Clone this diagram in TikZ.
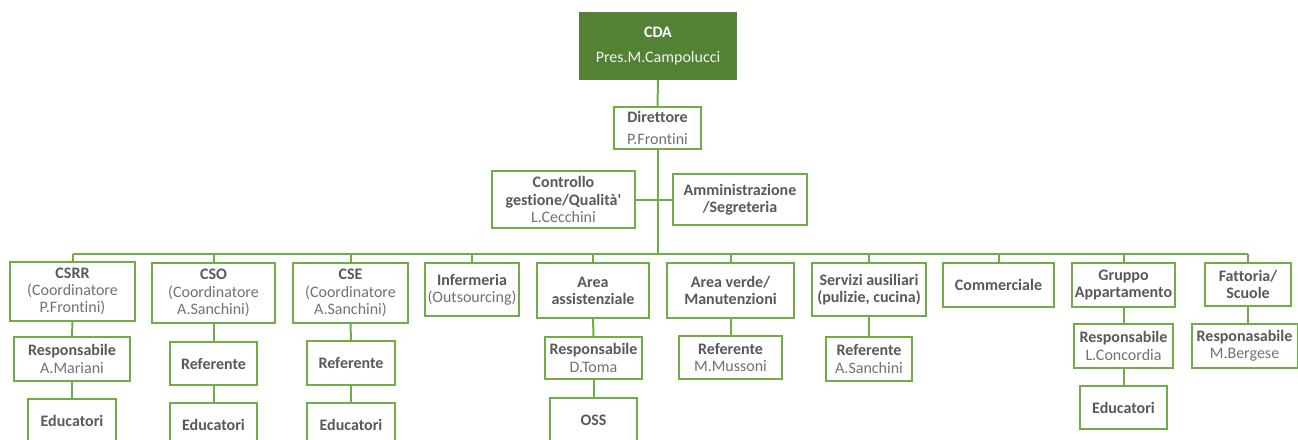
\documentclass[tikz,border=0pt]{standalone}
\usepackage{fontspec}
\setmainfont{Carlito}[Ligatures=NoCommon]
\definecolor{boxgreen}{HTML}{70AD47}
\definecolor{darkgreen}{HTML}{548235}
\definecolor{boldgray}{HTML}{595959}
\definecolor{namegray}{HTML}{767171}
\newcommand\lightname[1]{{\mdseries\color{namegray}#1}}
\tikzset{
  orgbox/.style={draw=boxgreen, line width=1.5pt, fill=white, align=center, inner sep=1pt,
    font=\fontsize{12}{12.9}\selectfont\bfseries, text=boldgray},
  topbox/.style={draw=darkgreen, fill=darkgreen, line width=1.5pt, align=center, inner sep=1pt,
    font=\fontsize{12}{12.9}\selectfont, text=white},
  sz/.style 2 args={minimum width=#1*0.75pt, minimum height=#2*0.75pt},
  link/.style={draw=boxgreen, line width=1.5pt}
}
\begin{document}
\begin{tikzpicture}[x=0.75pt, y=-0.75pt]
\useasboundingbox (0,0) rectangle (1298,439);
\clip (0,0) rectangle (1298,439);
\coordinate (busy) at (0,254);
\node[topbox, sz={156}{66}] (cda) at (658,46) {\textbf{CDA}\\[6pt]{\color[HTML]{F2F2F2}Pres.M.Campolucci}};
\node[orgbox, sz={87}{42}] (dir) at (657.5,128) {Direttore\\[3.5pt]\lightname{P.Frontini}};
\node[orgbox, sz={143}{57}] (ctrl) at (563.5,199.5) {Controllo\\gestione/Qualità\textquotesingle\\\lightname{L.Cecchini}};
\node[orgbox, sz={134}{51}] (amm) at (740,199.5) {Amministrazione\\/Segreteria};
% level 1
\node[orgbox, sz={125}{59}] (csrr) at (72.5,291.5) {CSRR\\\lightname{(Coordinatore}\\\lightname{P.Frontini)}};
\node[orgbox, sz={123}{60}] (cso) at (213.5,293) {CSO\\\lightname{(Coordinatore}\\\lightname{A.Sanchini)}};
\node[orgbox, sz={115}{60}] (cse) at (350.5,293) {CSE\\\lightname{(Coordinatore}\\\lightname{A.Sanchini)}};
\node[orgbox, sz={94}{53}] (inf) at (472,289.5) {Infermeria\\\lightname{(Outsourcing)}};
\node[orgbox, sz={112}{55}] (ass) at (593,290.5) {Area\\assistenziale};
\node[orgbox, sz={127}{55}] (ver) at (730.5,290.5) {Area verde/\\Manutenzioni};
\node[orgbox, sz={114}{53}] (ser) at (869,289.5) {Servizi ausiliari\\(pulizie, cucina)};
\node[orgbox, sz={111}{44}] (com) at (998.5,285) {Commerciale};
\node[orgbox, sz={103}{44}] (gru) at (1123.5,285) {Gruppo\\Appartamento};
\node[orgbox, sz={86}{43}] (fat) at (1248,284.5) {Fattoria/\\Scuole};
% level 2
\node[orgbox, sz={116}{44}] (rmar) at (72,359) {Responsabile\\\lightname{A.Mariani}};
\node[orgbox, sz={87}{43}] (rcso) at (213.5,363.5) {Referente};
\node[orgbox, sz={88}{44}] (rcse) at (351,363) {Referente};
\node[orgbox, sz={97}{42}] (rtom) at (593.5,358) {Responsabile\\\lightname{D.Toma}};
\node[orgbox, sz={103}{43}] (rmus) at (730.5,357.5) {Referente\\\lightname{M.Mussoni}};
\node[orgbox, sz={86}{44}] (rsan) at (869,359) {Referente\\\lightname{A.Sanchini}};
\node[orgbox, sz={99}{44}] (rcon) at (1123.5,346) {Responsabile\\\lightname{L.Concordia}};
\node[orgbox, sz={106}{44}] (rber) at (1244.5,346) {Responasabile\\\lightname{M.Bergese}};
% level 3
\node[orgbox, sz={88}{44}] (e1) at (72,421) {Educatori};
\node[orgbox, sz={87}{44}] (e2) at (213.5,425) {Educatori};
\node[orgbox, sz={88}{44}] (e3) at (351,425) {Educatori};
\node[orgbox, sz={87}{44}] (oss) at (593.5,420) {OSS};
\node[orgbox, sz={87}{43}] (e4) at (1123.5,407.5) {Educatori};
% connectors
\path[link] (cda.south) -- (dir.north);
\path[link] (dir.south) -- (dir.south |- busy);
\path[link] (ctrl.east) -- (ctrl.east -| dir.south);
\path[link] (amm.west) -- (amm.west -| dir.south);
\path[link] (csrr.north |- busy) -- (fat.north |- busy);
\foreach \n in {csrr,cso,cse,inf,ass,ver,ser,com,gru,fat}{
  \path[link] (\n.north) -- (\n.north |- busy);
}
\path[link] (csrr.south) -- (rmar.north);
\path[link] (rmar.south) -- (e1.north);
\path[link] (cso.south) -- (rcso.north);
\path[link] (rcso.south) -- (e2.north);
\path[link] (cse.south) -- (rcse.north);
\path[link] (rcse.south) -- (e3.north);
\path[link] (ass.south) -- (rtom.north);
\path[link] (rtom.south) -- (oss.north);
\path[link] (ver.south) -- (rmus.north);
\path[link] (ser.south) -- (rsan.north);
\path[link] (gru.south) -- (rcon.north);
\path[link] (rcon.south) -- (e4.north);
\path[link] (fat.south) -- (fat.south |- rber.north);
\end{tikzpicture}
\end{document}
